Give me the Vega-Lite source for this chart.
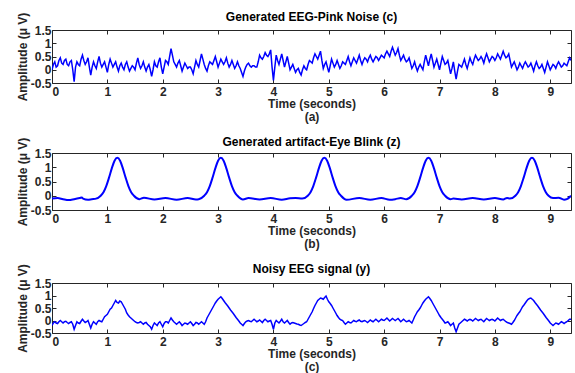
{
  "$schema": "https://vega.github.io/schema/vega-lite/v6.json",
  "background": "white",
  "padding": {"left": 15, "top": 10, "right": 1, "bottom": 0},
  "spacing": 12,
  "config": {
    "font": "Liberation Sans",
    "view": {"stroke": "#262626", "strokeWidth": 1},
    "axis": {"labelFont": "Liberation Sans", "labelFontWeight": "bold", "labelFontSize": 12, "labelColor": "#262626", "titleFont": "Liberation Sans", "titleFontSize": 12, "titleFontWeight": "bold", "titleColor": "#262626", "grid": false, "domain": false, "tickColor": "#262626", "tickSize": -4, "tickWidth": 1, "minExtent": 0, "offset": 0},
    "title": {"font": "Liberation Sans", "fontSize": 12, "fontWeight": "bold", "color": "#000000", "offset": -12, "frame": "group"}
  },
  "datasets": {
    "cy": [
      {"t":0,"c":0,"y":-0.2},{"t":0.05,"c":0.3,"y":-0.05},{"t":0.1,"c":0.15,"y":-0.12},{"t":0.15,"c":0.45,"y":0},{"t":0.2,"c":0.2,"y":-0.1},{"t":0.25,"c":0.4,"y":-0.03},{"t":0.3,"c":0.15,"y":-0.12},{"t":0.35,"c":0.35,"y":-0.05},{"t":0.4,"c":-0.45,"y":-0.35},{"t":0.45,"c":0.3,"y":-0.05},
      {"t":0.5,"c":0.15,"y":-0.12},{"t":0.55,"c":0.55,"y":0.05},{"t":0.6,"c":0.2,"y":-0.08},{"t":0.65,"c":0.45,"y":0},{"t":0.7,"c":-0.2,"y":-0.3},{"t":0.75,"c":0.3,"y":-0.05},{"t":0.8,"c":0.05,"y":-0.15},{"t":0.85,"c":0.5,"y":0},{"t":0.9,"c":0.1,"y":-0.05},{"t":0.95,"c":0.3,"y":0.15},
      {"t":1,"c":-0.1,"y":0.25},{"t":1.05,"c":0.4,"y":0.45},{"t":1.1,"c":0.1,"y":0.6},{"t":1.15,"c":0.3,"y":0.8},{"t":1.2,"c":-0.05,"y":0.7},{"t":1.25,"c":0.25,"y":0.75},{"t":1.3,"c":0,"y":0.55},{"t":1.35,"c":0.3,"y":0.3},{"t":1.4,"c":-0.05,"y":0.15},{"t":1.45,"c":0.15,"y":0.05},
      {"t":1.5,"c":0,"y":-0.05},{"t":1.55,"c":0.45,"y":-0.1},{"t":1.6,"c":0.05,"y":-0.05},{"t":1.65,"c":0.3,"y":-0.15},{"t":1.7,"c":-0.05,"y":-0.08},{"t":1.75,"c":0.2,"y":-0.2},{"t":1.8,"c":-0.25,"y":-0.35},{"t":1.85,"c":0.3,"y":-0.1},{"t":1.9,"c":0.1,"y":-0.2},{"t":1.95,"c":0.45,"y":-0.05},
      {"t":2,"c":-0.15,"y":-0.25},{"t":2.05,"c":0.35,"y":-0.05},{"t":2.1,"c":0.2,"y":-0.1},{"t":2.15,"c":0.8,"y":0.1},{"t":2.2,"c":0.3,"y":-0.05},{"t":2.25,"c":0.1,"y":-0.15},{"t":2.3,"c":0.35,"y":-0.05},{"t":2.35,"c":-0.05,"y":-0.2},{"t":2.4,"c":0.25,"y":-0.1},{"t":2.45,"c":0.05,"y":-0.15},
      {"t":2.5,"c":0.1,"y":-0.05},{"t":2.55,"c":-0.15,"y":-0.2},{"t":2.6,"c":0.35,"y":-0.08},{"t":2.65,"c":0.1,"y":-0.15},{"t":2.7,"c":0.6,"y":-0.05},{"t":2.75,"c":0.2,"y":-0.15},{"t":2.8,"c":-0.05,"y":0.1},{"t":2.85,"c":0.3,"y":0.3},{"t":2.9,"c":0.2,"y":0.5},{"t":2.95,"c":0.5,"y":0.7},
      {"t":3,"c":0.1,"y":0.85},{"t":3.05,"c":0.4,"y":0.95},{"t":3.1,"c":0.2,"y":0.8},{"t":3.15,"c":0.45,"y":0.65},{"t":3.2,"c":0.1,"y":0.5},{"t":3.25,"c":0.35,"y":0.35},{"t":3.3,"c":0.05,"y":0.2},{"t":3.35,"c":0.3,"y":0.05},{"t":3.4,"c":0.05,"y":-0.1},{"t":3.45,"c":-0.25,"y":-0.2},
      {"t":3.5,"c":0.1,"y":-0.05},{"t":3.55,"c":0.25,"y":0},{"t":3.6,"c":0.1,"y":-0.05},{"t":3.65,"c":0.15,"y":0.05},{"t":3.7,"c":0.1,"y":-0.05},{"t":3.75,"c":0.55,"y":0.02},{"t":3.8,"c":0.4,"y":-0.08},{"t":3.85,"c":0.65,"y":0.05},{"t":3.9,"c":0.5,"y":-0.05},{"t":3.95,"c":0.75,"y":0},
      {"t":4,"c":-0.4,"y":-0.35},{"t":4.05,"c":0.55,"y":0},{"t":4.1,"c":0.2,"y":-0.1},{"t":4.15,"c":0.6,"y":0.05},{"t":4.2,"c":0.1,"y":-0.1},{"t":4.25,"c":0.5,"y":0},{"t":4.3,"c":0,"y":-0.15},{"t":4.35,"c":0.2,"y":-0.08},{"t":4.4,"c":-0.1,"y":-0.12},{"t":4.45,"c":0.05,"y":-0.15},
      {"t":4.5,"c":-0.2,"y":-0.2},{"t":4.55,"c":0.15,"y":-0.12},{"t":4.6,"c":0,"y":-0.05},{"t":4.65,"c":0.35,"y":0.15},{"t":4.7,"c":0.25,"y":0.35},{"t":4.75,"c":0.6,"y":0.6},{"t":4.8,"c":0.4,"y":0.8},{"t":4.85,"c":0.7,"y":0.9},{"t":4.9,"c":0.05,"y":0.85},{"t":4.95,"c":0.3,"y":0.98},
      {"t":5,"c":-0.1,"y":0.75},{"t":5.05,"c":0.4,"y":0.6},{"t":5.1,"c":0.1,"y":0.4},{"t":5.15,"c":0.35,"y":0.2},{"t":5.2,"c":0.05,"y":0.05},{"t":5.25,"c":0.3,"y":0},{"t":5.3,"c":0.2,"y":-0.15},{"t":5.35,"c":0.5,"y":-0.05},{"t":5.4,"c":0.15,"y":-0.1},{"t":5.45,"c":0.45,"y":0},
      {"t":5.5,"c":0.25,"y":-0.05},{"t":5.55,"c":0.55,"y":0.02},{"t":5.6,"c":0.2,"y":-0.05},{"t":5.65,"c":0.45,"y":0},{"t":5.7,"c":0.3,"y":-0.08},{"t":5.75,"c":0.55,"y":0.02},{"t":5.8,"c":0.3,"y":-0.05},{"t":5.85,"c":0.5,"y":0.05},{"t":5.9,"c":0.35,"y":-0.05},{"t":5.95,"c":0.55,"y":0.05},
      {"t":6,"c":0.45,"y":0},{"t":6.05,"c":0.7,"y":0.1},{"t":6.1,"c":0.5,"y":-0.02},{"t":6.15,"c":0.85,"y":0.08},{"t":6.2,"c":0.55,"y":0},{"t":6.25,"c":0.8,"y":0.08},{"t":6.3,"c":0.35,"y":-0.05},{"t":6.35,"c":0.55,"y":0.05},{"t":6.4,"c":0.3,"y":-0.05},{"t":6.45,"c":0.45,"y":0},
      {"t":6.5,"c":0.05,"y":-0.1},{"t":6.55,"c":0.3,"y":0.15},{"t":6.6,"c":-0.05,"y":0.35},{"t":6.65,"c":0.2,"y":0.5},{"t":6.7,"c":0,"y":0.7},{"t":6.75,"c":0.55,"y":0.85},{"t":6.8,"c":0.15,"y":0.95},{"t":6.85,"c":0.6,"y":0.8},{"t":6.9,"c":0.1,"y":0.6},{"t":6.95,"c":0.4,"y":0.4},
      {"t":7,"c":0,"y":0.2},{"t":7.05,"c":0.5,"y":0.05},{"t":7.1,"c":0.2,"y":-0.1},{"t":7.15,"c":0.35,"y":-0.05},{"t":7.2,"c":-0.15,"y":-0.2},{"t":7.25,"c":0.3,"y":-0.1},{"t":7.3,"c":-0.35,"y":-0.45},{"t":7.35,"c":0.2,"y":-0.15},{"t":7.4,"c":0.1,"y":-0.05},{"t":7.45,"c":0.4,"y":0.05},
      {"t":7.5,"c":0.05,"y":-0.02},{"t":7.55,"c":0.45,"y":0.05},{"t":7.6,"c":0.2,"y":-0.02},{"t":7.65,"c":0.55,"y":0.08},{"t":7.7,"c":0.35,"y":0},{"t":7.75,"c":0.5,"y":0.05},{"t":7.8,"c":0.25,"y":-0.05},{"t":7.85,"c":0.6,"y":0.08},{"t":7.9,"c":0.3,"y":0},{"t":7.95,"c":0.5,"y":0.05},
      {"t":8,"c":0.35,"y":-0.02},{"t":8.05,"c":0.6,"y":0.1},{"t":8.1,"c":0.4,"y":0},{"t":8.15,"c":0.7,"y":0.05},{"t":8.2,"c":0.45,"y":-0.05},{"t":8.25,"c":0.6,"y":-0.1},{"t":8.3,"c":0.1,"y":-0.15},{"t":8.35,"c":0.3,"y":0},{"t":8.4,"c":0,"y":0.2},{"t":8.45,"c":0.25,"y":0.35},
      {"t":8.5,"c":0.05,"y":0.55},{"t":8.55,"c":0.3,"y":0.7},{"t":8.6,"c":0.1,"y":0.85},{"t":8.65,"c":0.25,"y":0.9},{"t":8.7,"c":-0.05,"y":0.8},{"t":8.75,"c":0.3,"y":0.65},{"t":8.8,"c":0.05,"y":0.5},{"t":8.85,"c":0.2,"y":0.35},{"t":8.9,"c":-0.1,"y":0.2},{"t":8.95,"c":0.3,"y":0.05},
      {"t":9,"c":0,"y":-0.1},{"t":9.05,"c":0.2,"y":-0.2},{"t":9.1,"c":0.05,"y":-0.1},{"t":9.15,"c":0.3,"y":-0.15},{"t":9.2,"c":0.1,"y":-0.05},{"t":9.25,"c":0.25,"y":-0.12},{"t":9.3,"c":0.15,"y":-0.05},{"t":9.35,"c":0.45,"y":0.05},
      {"t":0.025,"c":0.2,"y":-0.1},{"t":0.075,"c":0.1,"y":-0.1},{"t":0.125,"c":0.35,"y":-0.05},{"t":0.175,"c":0.25,"y":-0.05},{"t":0.225,"c":0.35,"y":-0.05},{"t":0.275,"c":0.2,"y":-0.08},{"t":0.325,"c":0.3,"y":-0.08},{"t":0.375,"c":0,"y":-0.15},{"t":0.425,"c":0.1,"y":-0.2},{"t":0.475,"c":0.2,"y":-0.1},
      {"t":0.525,"c":0.4,"y":-0.03},{"t":0.575,"c":0.35,"y":-0.02},{"t":0.625,"c":0.3,"y":-0.05},{"t":0.675,"c":0.1,"y":-0.15},{"t":0.725,"c":0.1,"y":-0.15},{"t":0.775,"c":0.15,"y":-0.1},{"t":0.825,"c":0.3,"y":-0.05},{"t":0.875,"c":0.25,"y":-0.03},{"t":0.925,"c":0.2,"y":0.05},{"t":0.975,"c":0.1,"y":0.2},
      {"t":1.025,"c":0.2,"y":0.35},{"t":1.075,"c":0.25,"y":0.5},{"t":1.125,"c":0.2,"y":0.7},{"t":1.175,"c":0.1,"y":0.72},{"t":1.225,"c":0.15,"y":0.78},{"t":1.275,"c":0.1,"y":0.65},{"t":1.325,"c":0.2,"y":0.45},{"t":1.375,"c":0.1,"y":0.22},{"t":1.425,"c":0.05,"y":0.1},{"t":1.475,"c":0.1,"y":0},
      {"t":1.525,"c":0.25,"y":-0.08},{"t":1.575,"c":0.2,"y":-0.08},{"t":1.625,"c":0.15,"y":-0.1},{"t":1.675,"c":0.1,"y":-0.1},{"t":1.725,"c":0.1,"y":-0.15},{"t":1.775,"c":0,"y":-0.25},{"t":1.825,"c":0,"y":-0.2},{"t":1.875,"c":0.15,"y":-0.15},{"t":1.925,"c":0.3,"y":-0.1},{"t":1.975,"c":0.1,"y":-0.15},
      {"t":2.025,"c":0.1,"y":-0.12},{"t":2.075,"c":0.3,"y":-0.05},{"t":2.125,"c":0.5,"y":0},{"t":2.175,"c":0.55,"y":0.02},{"t":2.225,"c":0.2,"y":-0.1},{"t":2.275,"c":0.25,"y":-0.1},{"t":2.325,"c":0.15,"y":-0.12},{"t":2.375,"c":0.1,"y":-0.15},{"t":2.425,"c":0.15,"y":-0.12},{"t":2.475,"c":0.1,"y":-0.1},
      {"t":2.525,"c":0,"y":-0.12},{"t":2.575,"c":0.1,"y":-0.15},{"t":2.625,"c":0.2,"y":-0.1},{"t":2.675,"c":0.35,"y":-0.1},{"t":2.725,"c":0.4,"y":-0.1},{"t":2.775,"c":0.05,"y":-0.05},{"t":2.825,"c":0.15,"y":0.2},{"t":2.875,"c":0.25,"y":0.4},{"t":2.925,"c":0.35,"y":0.6},{"t":2.975,"c":0.3,"y":0.78},
      {"t":3.025,"c":0.25,"y":0.9},{"t":3.075,"c":0.3,"y":0.88},{"t":3.125,"c":0.3,"y":0.72},{"t":3.175,"c":0.25,"y":0.58},{"t":3.225,"c":0.2,"y":0.42},{"t":3.275,"c":0.2,"y":0.28},{"t":3.325,"c":0.15,"y":0.12},{"t":3.375,"c":0.15,"y":-0.02},{"t":3.425,"c":-0.1,"y":-0.15},{"t":3.475,"c":-0.05,"y":-0.12},
      {"t":3.525,"c":0.2,"y":-0.02},{"t":3.575,"c":0.15,"y":-0.03},{"t":3.625,"c":0.15,"y":0},{"t":3.675,"c":0.1,"y":0},{"t":3.725,"c":0.3,"y":-0.02},{"t":3.775,"c":0.45,"y":-0.03},{"t":3.825,"c":0.5,"y":0},{"t":3.875,"c":0.55,"y":0},{"t":3.925,"c":0.6,"y":-0.02},{"t":3.975,"c":0.1,"y":-0.15},
      {"t":4.025,"c":0.1,"y":-0.1},{"t":4.075,"c":0.35,"y":-0.05},{"t":4.125,"c":0.4,"y":-0.03},{"t":4.175,"c":0.35,"y":-0.05},{"t":4.225,"c":0.3,"y":-0.05},{"t":4.275,"c":0.25,"y":-0.08},{"t":4.325,"c":0.1,"y":-0.1},{"t":4.375,"c":0.05,"y":-0.1},{"t":4.425,"c":0,"y":-0.14},{"t":4.475,"c":-0.1,"y":-0.18},
      {"t":4.525,"c":0,"y":-0.16},{"t":4.575,"c":0.05,"y":-0.08},{"t":4.625,"c":0.2,"y":0.05},{"t":4.675,"c":0.3,"y":0.25},{"t":4.725,"c":0.45,"y":0.48},{"t":4.775,"c":0.5,"y":0.7},{"t":4.825,"c":0.55,"y":0.85},{"t":4.875,"c":0.35,"y":0.88},{"t":4.925,"c":0.2,"y":0.92},{"t":4.975,"c":0.1,"y":0.85},
      {"t":5.025,"c":0.15,"y":0.68},{"t":5.075,"c":0.25,"y":0.5},{"t":5.125,"c":0.2,"y":0.3},{"t":5.175,"c":0.2,"y":0.12},{"t":5.225,"c":0.15,"y":0.02},{"t":5.275,"c":0.25,"y":-0.08},{"t":5.325,"c":0.35,"y":-0.1},{"t":5.375,"c":0.3,"y":-0.08},{"t":5.425,"c":0.3,"y":-0.05},{"t":5.475,"c":0.35,"y":-0.03},
      {"t":5.525,"c":0.4,"y":-0.01},{"t":5.575,"c":0.35,"y":-0.03},{"t":5.625,"c":0.35,"y":-0.02},{"t":5.675,"c":0.4,"y":-0.04},{"t":5.725,"c":0.45,"y":-0.03},{"t":5.775,"c":0.4,"y":-0.02},{"t":5.825,"c":0.4,"y":0},{"t":5.875,"c":0.45,"y":0},{"t":5.925,"c":0.45,"y":0},{"t":5.975,"c":0.5,"y":0.02},
      {"t":6.025,"c":0.6,"y":0.05},{"t":6.075,"c":0.6,"y":0.04},{"t":6.125,"c":0.7,"y":0.03},{"t":6.175,"c":0.7,"y":0.04},{"t":6.225,"c":0.65,"y":0.04},{"t":6.275,"c":0.55,"y":0.02},{"t":6.325,"c":0.45,"y":0},{"t":6.375,"c":0.4,"y":0},{"t":6.425,"c":0.35,"y":-0.03},{"t":6.475,"c":0.25,"y":-0.05},
      {"t":6.525,"c":0.15,"y":0.02},{"t":6.575,"c":0.1,"y":0.25},{"t":6.625,"c":0.1,"y":0.42},{"t":6.675,"c":0.1,"y":0.6},{"t":6.725,"c":0.3,"y":0.78},{"t":6.775,"c":0.35,"y":0.9},{"t":6.825,"c":0.4,"y":0.88},{"t":6.875,"c":0.35,"y":0.7},{"t":6.925,"c":0.25,"y":0.5},{"t":6.975,"c":0.2,"y":0.3},
      {"t":7.025,"c":0.25,"y":0.12},{"t":7.075,"c":0.35,"y":-0.02},{"t":7.125,"c":0.25,"y":-0.08},{"t":7.175,"c":0.1,"y":-0.12},{"t":7.225,"c":0.05,"y":-0.15},{"t":7.275,"c":-0.05,"y":-0.3},{"t":7.325,"c":-0.05,"y":-0.3},{"t":7.375,"c":0.15,"y":-0.1},{"t":7.425,"c":0.25,"y":0},{"t":7.475,"c":0.2,"y":0.02},
      {"t":7.525,"c":0.25,"y":0.02},{"t":7.575,"c":0.3,"y":0.02},{"t":7.625,"c":0.4,"y":0.03},{"t":7.675,"c":0.45,"y":0.04},{"t":7.725,"c":0.4,"y":0.03},{"t":7.775,"c":0.4,"y":0},{"t":7.825,"c":0.45,"y":0.02},{"t":7.875,"c":0.45,"y":0.04},{"t":7.925,"c":0.4,"y":0.03},{"t":7.975,"c":0.45,"y":0.02},
      {"t":8.025,"c":0.45,"y":0.04},{"t":8.075,"c":0.5,"y":0.05},{"t":8.125,"c":0.55,"y":0.03},{"t":8.175,"c":0.55,"y":0},{"t":8.225,"c":0.5,"y":-0.08},{"t":8.275,"c":0.35,"y":-0.12},{"t":8.325,"c":0.2,"y":-0.08},{"t":8.375,"c":0.15,"y":0.1},{"t":8.425,"c":0.1,"y":0.28},{"t":8.475,"c":0.15,"y":0.45},
      {"t":8.525,"c":0.2,"y":0.62},{"t":8.575,"c":0.2,"y":0.78},{"t":8.625,"c":0.15,"y":0.88},{"t":8.675,"c":0.1,"y":0.85},{"t":8.725,"c":0.15,"y":0.72},{"t":8.775,"c":0.15,"y":0.58},{"t":8.825,"c":0.1,"y":0.42},{"t":8.875,"c":0.05,"y":0.28},{"t":8.925,"c":0.1,"y":0.12},{"t":8.975,"c":0.15,"y":-0.02},
      {"t":9.025,"c":0.1,"y":-0.15},{"t":9.075,"c":0.15,"y":-0.15},{"t":9.125,"c":0.2,"y":-0.12},{"t":9.175,"c":0.2,"y":-0.1},{"t":9.225,"c":0.15,"y":-0.08},{"t":9.275,"c":0.2,"y":-0.08},{"t":9.325,"c":0.3,"y":0},{"t":9.375,"c":0.35,"y":0.05}
    ],
    "z": [
      {"t":0,"v":-0.1},{"t":0.1,"v":-0.08},{"t":0.2,"v":-0.12},{"t":0.3,"v":-0.15},{"t":0.4,"v":-0.12},{"t":0.5,"v":-0.08},{"t":0.54,"v":-0.06},{"t":0.56,"v":-0.1},{"t":0.65,"v":-0.14},{"t":0.72,"v":-0.12},
      {"t":0.78,"v":-0.11},{"t":0.88,"v":0},{"t":0.93,"v":0.125},{"t":0.98,"v":0.34},{"t":1.03,"v":0.635},{"t":1.08,"v":0.96},{"t":1.13,"v":1.23},{"t":1.18,"v":1.33},{"t":1.23,"v":1.23},{"t":1.28,"v":0.96},{"t":1.33,"v":0.635},{"t":1.38,"v":0.34},{"t":1.43,"v":0.125},{"t":1.48,"v":0},{"t":1.58,"v":-0.12},
      {"t":1.66,"v":-0.07},{"t":1.85,"v":-0.13},{"t":2.05,"v":-0.08},{"t":2.25,"v":-0.14},{"t":2.45,"v":-0.08},{"t":2.6,"v":-0.13},
      {"t":2.65,"v":-0.12},{"t":2.75,"v":0},{"t":2.8,"v":0.125},{"t":2.85,"v":0.34},{"t":2.9,"v":0.635},{"t":2.95,"v":0.96},{"t":3,"v":1.23},{"t":3.05,"v":1.33},{"t":3.1,"v":1.23},{"t":3.15,"v":0.96},{"t":3.2,"v":0.635},{"t":3.25,"v":0.34},{"t":3.3,"v":0.125},{"t":3.35,"v":0},{"t":3.45,"v":-0.13},
      {"t":3.55,"v":-0.08},{"t":3.75,"v":-0.13},{"t":3.95,"v":-0.08},{"t":4.15,"v":-0.14},{"t":4.3,"v":-0.09},{"t":4.4,"v":-0.08},
      {"t":4.52,"v":-0.1},{"t":4.62,"v":0},{"t":4.67,"v":0.125},{"t":4.72,"v":0.34},{"t":4.77,"v":0.635},{"t":4.82,"v":0.96},{"t":4.87,"v":1.23},{"t":4.92,"v":1.33},{"t":4.97,"v":1.23},{"t":5.02,"v":0.96},{"t":5.07,"v":0.635},{"t":5.12,"v":0.34},{"t":5.17,"v":0.125},{"t":5.22,"v":0},{"t":5.32,"v":-0.14},
      {"t":5.55,"v":-0.08},{"t":5.75,"v":-0.14},{"t":5.95,"v":-0.08},{"t":6.1,"v":-0.14},{"t":6.2,"v":-0.12},{"t":6.3,"v":-0.08},
      {"t":6.4,"v":-0.12},{"t":6.5,"v":0},{"t":6.55,"v":0.125},{"t":6.6,"v":0.34},{"t":6.65,"v":0.635},{"t":6.7,"v":0.96},{"t":6.75,"v":1.23},{"t":6.8,"v":1.33},{"t":6.85,"v":1.23},{"t":6.9,"v":0.96},{"t":6.95,"v":0.635},{"t":7,"v":0.34},{"t":7.05,"v":0.125},{"t":7.1,"v":0},{"t":7.2,"v":-0.12},
      {"t":7.25,"v":-0.1},{"t":7.4,"v":-0.13},{"t":7.6,"v":-0.08},{"t":7.8,"v":-0.13},{"t":8,"v":-0.08},{"t":8.15,"v":-0.13},{"t":8.22,"v":-0.08},
      {"t":8.27,"v":-0.1},{"t":8.37,"v":0},{"t":8.42,"v":0.125},{"t":8.47,"v":0.34},{"t":8.52,"v":0.635},{"t":8.57,"v":0.96},{"t":8.62,"v":1.23},{"t":8.67,"v":1.33},{"t":8.72,"v":1.23},{"t":8.77,"v":0.96},{"t":8.82,"v":0.635},{"t":8.87,"v":0.34},{"t":8.92,"v":0.125},{"t":8.97,"v":0},{"t":9.05,"v":-0.08},
      {"t":9.15,"v":-0.07},{"t":9.25,"v":-0.14},{"t":9.3,"v":-0.12},{"t":9.375,"v":0}
    ]
  },
  "vconcat": [
    {
      "width": 519, "height": 53,
      "title": "Generated EEG-Pink Noise (c)",
      "data": {"name": "cy"},
      "layer": [
        {"mark": {"type": "line", "color": "#0000ff", "strokeWidth": 1.5, "clip": true},
         "encoding": {
           "x": {"field": "t", "type": "quantitative", "scale": {"domain": [0, 9.375], "nice": false, "zero": false}, "axis": {"values": [0,1,2,3,4,5,6,7,8,9], "title": ["Time (seconds)", "(a)"], "titleLineHeight": 13, "labelPadding": 7, "titlePadding": 1}},
           "y": {"field": "c", "type": "quantitative", "scale": {"domain": [-0.5, 1.5], "nice": false}, "axis": {"values": [-0.5,0,0.5,1,1.5], "labelExpr": "datum.value + ''", "title": "Amplitude (μ V)", "labelPadding": 5, "titlePadding": 1}}
         }},
        {"mark": {"type": "line", "opacity": 0},
         "encoding": {
           "x": {"field": "t", "type": "quantitative", "axis": {"orient": "top", "values": [0,1,2,3,4,5,6,7,8,9], "labels": false, "title": null, "maxExtent": 0}},
           "y": {"field": "c", "type": "quantitative", "axis": {"orient": "right", "values": [-0.5,0,0.5,1,1.5], "labels": false, "title": null, "maxExtent": 0}}
         }}
      ],
      "resolve": {"axis": {"x": "independent", "y": "independent"}}
    },
    {
      "width": 519, "height": 57,
      "title": "Generated artifact-Eye Blink (z)",
      "data": {"name": "z"},
      "layer": [
        {"mark": {"type": "line", "color": "#0000ff", "strokeWidth": 2, "interpolate": "monotone", "clip": true},
         "encoding": {
           "x": {"field": "t", "type": "quantitative", "scale": {"domain": [0, 9.375], "nice": false, "zero": false}, "axis": {"values": [0,1,2,3,4,5,6,7,8,9], "title": ["Time (seconds)", "(b)"], "titleLineHeight": 13, "labelPadding": 7, "titlePadding": 1}},
           "y": {"field": "v", "type": "quantitative", "scale": {"domain": [-0.5, 1.5], "nice": false}, "axis": {"values": [-0.5,0,0.5,1,1.5], "labelExpr": "datum.value + ''", "title": "Amplitude (μ V)", "labelPadding": 5, "titlePadding": 1}}
         }},
        {"mark": {"type": "line", "opacity": 0},
         "encoding": {
           "x": {"field": "t", "type": "quantitative", "axis": {"orient": "top", "values": [0,1,2,3,4,5,6,7,8,9], "labels": false, "title": null, "maxExtent": 0}},
           "y": {"field": "v", "type": "quantitative", "axis": {"orient": "right", "values": [-0.5,0,0.5,1,1.5], "labels": false, "title": null, "maxExtent": 0}}
         }}
      ],
      "resolve": {"axis": {"x": "independent", "y": "independent"}}
    },
    {
      "width": 519, "height": 50,
      "title": "Noisy EEG signal (y)",
      "data": {"name": "cy"},
      "layer": [
        {"mark": {"type": "line", "color": "#0000ff", "strokeWidth": 1.5, "clip": true},
         "encoding": {
           "x": {"field": "t", "type": "quantitative", "scale": {"domain": [0, 9.375], "nice": false, "zero": false}, "axis": {"values": [0,1,2,3,4,5,6,7,8,9], "title": ["Time (seconds)", "(c)"], "titleLineHeight": 13, "labelPadding": 7, "titlePadding": 1}},
           "y": {"field": "y", "type": "quantitative", "scale": {"domain": [-0.5, 1.5], "nice": false}, "axis": {"values": [-0.5,0,0.5,1,1.5], "labelExpr": "datum.value + ''", "title": "Amplitude (μ V)", "labelPadding": 5, "titlePadding": 1}}
         }},
        {"mark": {"type": "line", "opacity": 0},
         "encoding": {
           "x": {"field": "t", "type": "quantitative", "axis": {"orient": "top", "values": [0,1,2,3,4,5,6,7,8,9], "labels": false, "title": null, "maxExtent": 0}},
           "y": {"field": "y", "type": "quantitative", "axis": {"orient": "right", "values": [-0.5,0,0.5,1,1.5], "labels": false, "title": null, "maxExtent": 0}}
         }}
      ],
      "resolve": {"axis": {"x": "independent", "y": "independent"}}
    }
  ]
}
